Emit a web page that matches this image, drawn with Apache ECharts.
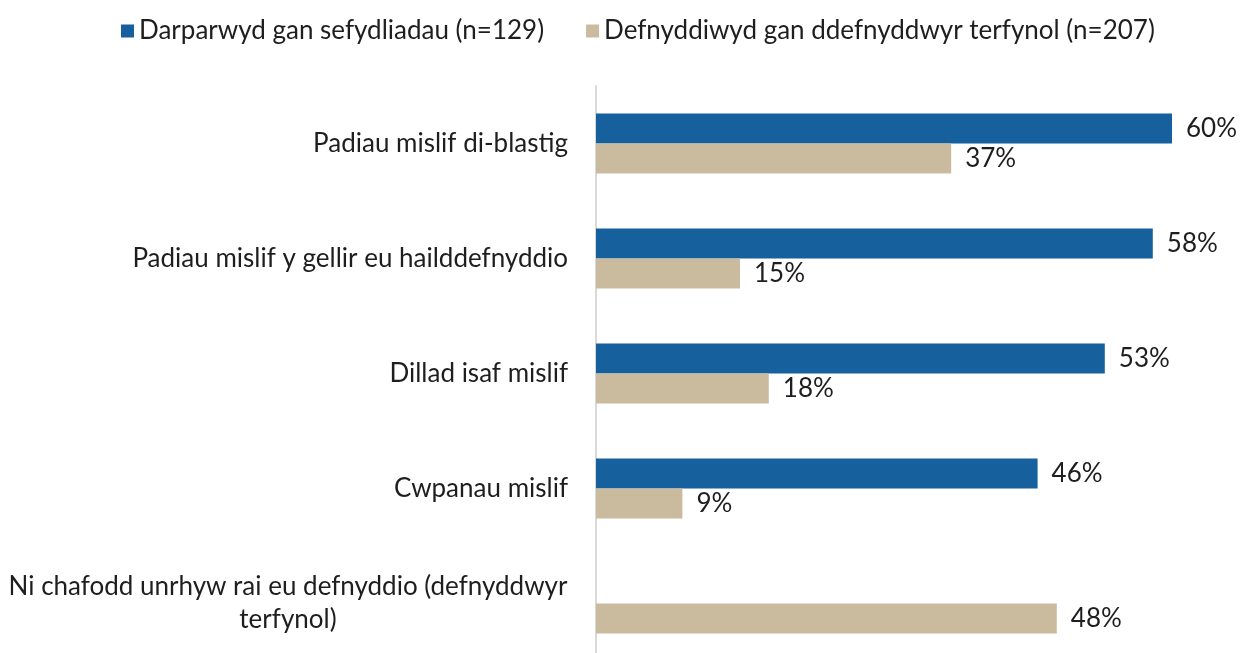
<!DOCTYPE html>
<html>
<head>
<meta charset="utf-8">
<script src="https://cdn.jsdelivr.net/npm/echarts@6/dist/echarts.min.js"></script>
<style>
  html, body { margin: 0; padding: 0; background: #fff; }
  #grafico { width: 1243px; height: 653px; }
</style>
</head>
<body>
<div id="grafico"></div>
<script>
var categorias = [
    'Padiau mislif di-blastig',
    'Padiau mislif y gellir eu hailddefnyddio',
    'Dillad isaf mislif',
    'Cwpanau mislif',
    'Ni chafodd unrhyw rai eu defnyddio (defnyddwyr\nterfynol)'
];
var sefydliadau = [60, 58, 53, 46, null];
var defnyddwyr = [37, 15, 18, 9, 48];
var nomes = ['Darparwyd gan sefydliadau (n=129)', 'Defnyddiwyd gan ddefnyddwyr terfynol (n=207)'];

function exibeGrafico() {
    var myChart = echarts.init(document.getElementById('grafico'));
    var fonte = 'Lato, "Open Sans", sans-serif';

    var rotulo = {
        show: true,
        position: 'right',
        distance: 14,
        fontFamily: fonte,
        fontSize: 26,
        color: '#1E1E1E',
        formatter: '{c}%'
    };

    var option = {
        animation: false,
        textStyle: { fontFamily: fonte },
        legend: {
            data: nomes,
            top: 13,
            left: 116,
            itemWidth: 13,
            itemHeight: 13,
            itemGap: 42,
            icon: 'rect',
            textStyle: { fontFamily: fonte, fontSize: 26, color: '#1E1E1E' }
        },
        grid: {
            left: 596,
            right: 23,
            top: 86,
            height: 575,
            outerBoundsMode: 'none',
            containLabel: false
        },
        xAxis: {
            type: 'value',
            min: 0,
            max: 65,
            show: false
        },
        yAxis: {
            type: 'category',
            data: categorias,
            inverse: true,
            axisLine: { show: true, lineStyle: { color: '#D9D9D9', width: 2 } },
            axisTick: { show: false },
            axisLabel: {
                margin: 28,
                fontFamily: fonte,
                fontSize: 26,
                color: '#1E1E1E',
                align: 'right',
                lineHeight: 33,
                formatter: function (v) {
                    if (v.indexOf('\n') >= 0) {
                        return v.split('\n').map(function (l) { return '{c|' + l + '}'; }).join('\n');
                    }
                    return v;
                },
                rich: {
                    c: { width: 560, align: 'center', fontFamily: fonte, fontSize: 26, color: '#1E1E1E', lineHeight: 33 }
                }
            }
        },
        series: [
            {
                name: nomes[0],
                type: 'bar',
                data: sefydliadau,
                barWidth: 30,
                barGap: '0%',
                itemStyle: { color: '#17609E' },
                label: rotulo
            },
            {
                name: nomes[1],
                type: 'bar',
                data: defnyddwyr,
                barWidth: 30,
                itemStyle: { color: '#CBBB9E' },
                label: rotulo
            }
        ]
    };

    myChart.setOption(option);
}

exibeGrafico();
</script>
</body>
</html>
